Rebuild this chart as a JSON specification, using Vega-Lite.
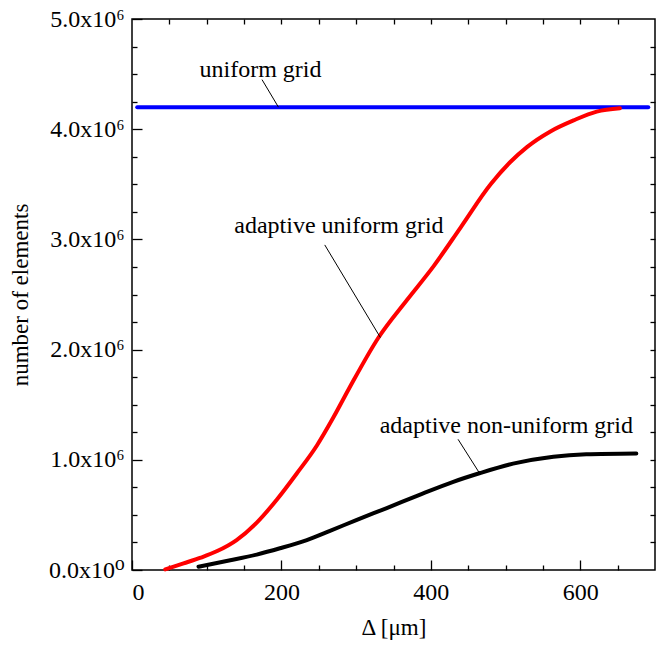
{
  "$schema": "https://vega.github.io/schema/vega-lite/v6.json",
  "autosize": {"type": "none"},
  "width": 523,
  "height": 551,
  "padding": {"left": 132, "top": 19, "right": 6, "bottom": 76},
  "background": "white",
  "config": {
    "view": {"stroke": "black", "strokeWidth": 1.5},
    "font": "'Liberation Serif', 'Times New Roman', 'DejaVu Serif', serif",
    "axis": {"domain": false, "grid": false, "tickColor": "black", "tickWidth": 1.3, "labelColor": "black", "titleColor": "black", "labelFont": "'Liberation Serif', 'Times New Roman', 'DejaVu Serif', serif", "titleFont": "'Liberation Serif', 'Times New Roman', 'DejaVu Serif', serif", "labelFontSize": 24, "titleFontSize": 23, "titleFontWeight": "normal"}
  },
  "datasets": {
    "curves": [
      {"series": "uniform", "x": 7, "y": 4200000},
      {"series": "uniform", "x": 691, "y": 4200000},
      {"series": "nonuniform", "x": 89, "y": 30000},
      {"series": "nonuniform", "x": 131.5, "y": 88000},
      {"series": "nonuniform", "x": 167, "y": 140000},
      {"series": "nonuniform", "x": 198, "y": 197000},
      {"series": "nonuniform", "x": 234, "y": 272000},
      {"series": "nonuniform", "x": 265, "y": 355000},
      {"series": "nonuniform", "x": 301, "y": 455000},
      {"series": "nonuniform", "x": 341, "y": 562000},
      {"series": "nonuniform", "x": 384, "y": 680000},
      {"series": "nonuniform", "x": 430, "y": 800000},
      {"series": "nonuniform", "x": 466, "y": 880000},
      {"series": "nonuniform", "x": 510, "y": 965000},
      {"series": "nonuniform", "x": 564, "y": 1028000},
      {"series": "nonuniform", "x": 608, "y": 1050000},
      {"series": "nonuniform", "x": 675, "y": 1058000},
      {"series": "adaptive", "x": 44.5, "y": 6000},
      {"series": "adaptive", "x": 69, "y": 60000},
      {"series": "adaptive", "x": 92, "y": 112000},
      {"series": "adaptive", "x": 114, "y": 172000},
      {"series": "adaptive", "x": 140, "y": 272000},
      {"series": "adaptive", "x": 167, "y": 430000},
      {"series": "adaptive", "x": 194, "y": 640000},
      {"series": "adaptive", "x": 221, "y": 880000},
      {"series": "adaptive", "x": 247.5, "y": 1130000},
      {"series": "adaptive", "x": 270, "y": 1390000},
      {"series": "adaptive", "x": 290, "y": 1640000},
      {"series": "adaptive", "x": 330, "y": 2110000},
      {"series": "adaptive", "x": 368, "y": 2450000},
      {"series": "adaptive", "x": 404, "y": 2760000},
      {"series": "adaptive", "x": 440, "y": 3110000},
      {"series": "adaptive", "x": 480, "y": 3500000},
      {"series": "adaptive", "x": 506, "y": 3700000},
      {"series": "adaptive", "x": 529, "y": 3840000},
      {"series": "adaptive", "x": 560, "y": 3980000},
      {"series": "adaptive", "x": 591, "y": 4080000},
      {"series": "adaptive", "x": 622, "y": 4160000},
      {"series": "adaptive", "x": 653, "y": 4190000}
    ],
    "labels": [
      {"text": "uniform grid", "x": 172, "y": 4476000},
      {"text": "adaptive uniform grid", "x": 277, "y": 3055000},
      {"text": "adaptive non-uniform grid", "x": 501, "y": 1240000}
    ],
    "leaders": [
      {"x": 174, "y": 4450000, "x2": 196, "y2": 4200000},
      {"x": 258, "y": 2950000, "x2": 332.4, "y2": 2110000},
      {"x": 436.4, "y": 1186000, "x2": 465.3, "y2": 877000}
    ]
  },
  "resolve": {"axis": {"x": "independent", "y": "independent"}},
  "layer": [
    {
      "data": {"name": "curves"},
      "mark": {"type": "line", "strokeWidth": 4, "strokeCap": "round", "interpolate": "monotone"},
      "encoding": {
        "x": {"field": "x", "type": "quantitative", "scale": {"domain": [0, 700], "nice": false, "zero": false},
          "axis": {"orient": "bottom", "values": [0, 200, 400, 600], "tickSize": -10, "labelPadding": 20, "title": "Δ [μm]", "titlePadding": 12}},
        "y": {"field": "y", "type": "quantitative", "scale": {"domain": [0, 5000000], "nice": false, "zero": false},
          "axis": {"orient": "left", "values": [0, 1000000, 2000000, 3000000, 4000000, 5000000], "tickSize": -10, "labelPadding": 18,
            "labelExpr": "datum.value == 0 ? '0.0x10⁰' : format(datum.value / 1000000, '.1f') + 'x10⁶'", "title": "number of elements", "titlePadding": 16}},
        "color": {"field": "series", "type": "nominal", "legend": null,
          "scale": {"domain": ["uniform", "nonuniform", "adaptive"], "range": ["#0000ff", "#000000", "#ff0000"]}},
        "order": {"field": "x", "type": "quantitative"}
      }
    },
    {
      "data": {"name": "labels"},
      "mark": {"type": "text", "font": "'Liberation Serif', 'Times New Roman', 'DejaVu Serif', serif", "fontSize": 24, "color": "black", "align": "center", "baseline": "alphabetic"},
      "encoding": {
        "x": {"field": "x", "type": "quantitative",
          "axis": {"orient": "bottom", "values": [50, 100, 150, 250, 300, 350, 450, 500, 550, 650], "tickSize": -5, "labels": false, "title": null}},
        "y": {"field": "y", "type": "quantitative",
          "axis": {"orient": "left", "values": [250000, 500000, 750000, 1250000, 1500000, 1750000, 2250000, 2500000, 2750000, 3250000, 3500000, 3750000, 4250000, 4500000, 4750000], "tickSize": -5, "labels": false, "title": null}},
        "text": {"field": "text", "type": "nominal"}
      }
    },
    {
      "data": {"name": "leaders"},
      "mark": {"type": "rule", "color": "black", "strokeWidth": 1},
      "encoding": {
        "x": {"field": "x", "type": "quantitative",
          "axis": {"orient": "top", "values": [50, 100, 150, 200, 250, 300, 350, 400, 450, 500, 550, 600, 650], "tickSize": -5, "labels": false, "title": null}},
        "y": {"field": "y", "type": "quantitative",
          "axis": {"orient": "right", "values": [250000, 500000, 750000, 1000000, 1250000, 1500000, 1750000, 2000000, 2250000, 2500000, 2750000, 3000000, 3250000, 3500000, 3750000, 4000000, 4250000, 4500000, 4750000], "tickSize": -5, "labels": false, "title": null}},
        "x2": {"field": "x2"},
        "y2": {"field": "y2"}
      }
    }
  ]
}
